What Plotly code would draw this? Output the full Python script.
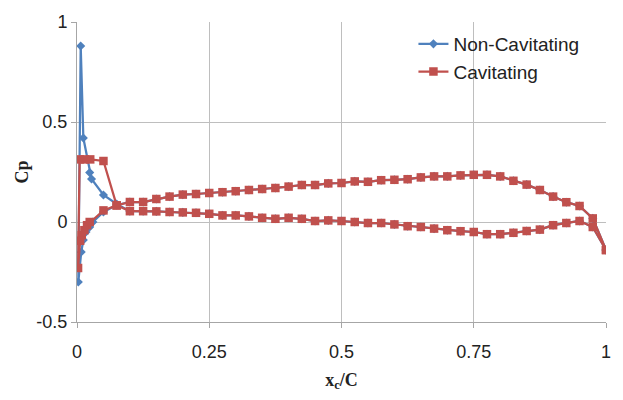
import plotly.graph_objects as go

# ---- data ----
x_body = [0.1, 0.125, 0.15, 0.175, 0.2, 0.225, 0.25, 0.275, 0.3, 0.325, 0.35, 0.375,
          0.4, 0.425, 0.45, 0.475, 0.5, 0.525, 0.55, 0.575, 0.6, 0.625, 0.65, 0.675,
          0.7, 0.725, 0.75, 0.775, 0.8, 0.825, 0.85, 0.875, 0.9, 0.925, 0.95, 0.975]
cp_upper_body = [0.10, 0.10, 0.115, 0.127, 0.137, 0.140, 0.145, 0.149, 0.154, 0.160, 0.165, 0.170,
                 0.177, 0.185, 0.185, 0.193, 0.195, 0.203, 0.201, 0.209, 0.211, 0.214, 0.223, 0.228,
                 0.228, 0.233, 0.236, 0.236, 0.228, 0.206, 0.187, 0.160, 0.127, 0.099, 0.080, 0.018]
cp_lower_body = [0.054, 0.054, 0.053, 0.050, 0.048, 0.046, 0.041, 0.033, 0.033, 0.028, 0.021, 0.016,
                 0.021, 0.016, 0.005, 0.008, 0.005, 0.0, -0.005, -0.005, -0.012, -0.021, -0.025, -0.033,
                 -0.041, -0.046, -0.050, -0.061, -0.061, -0.054, -0.045, -0.038, -0.016, -0.005, 0.005, -0.025]
x_te = 1.0
cp_te = -0.14

x_le_noncav = [0.075, 0.05, 0.03, 0.024, 0.017, 0.012, 0.008, 0.0025, 0.007, 0.012, 0.024, 0.0275, 0.05, 0.075]
cp_le_noncav = [0.085, 0.05, 0.0, -0.025, -0.05, -0.09, -0.15, -0.30, 0.88, 0.42, 0.247, 0.215, 0.135, 0.09]

x_le_cav = [0.075, 0.05, 0.024, 0.019, 0.014, 0.009, 0.006, 0.002, 0.005, 0.015, 0.025, 0.05, 0.075]
cp_le_cav = [0.083, 0.058, 0.0, -0.016, -0.041, -0.066, -0.094, -0.23, 0.313, 0.313, 0.313, 0.305, 0.083]

x_ticks = [0, 0.25, 0.5, 0.75, 1]
x_ticktext = ["0", "0.25", "0.5", "0.75", "1"]
y_ticks = [-0.5, 0, 0.5, 1]
y_ticktext = ["-0.5", "0", "0.5", "1"]


def loop(x_le, cp_le):
    xs = [x_te] + x_body[::-1] + x_le + x_body + [x_te]
    ys = [cp_te] + cp_upper_body[::-1] + cp_le + cp_lower_body + [cp_te]
    return xs, ys


xb, yb = loop(x_le_noncav, cp_le_noncav)
xr, yr = loop(x_le_cav, cp_le_cav)

BLUE = "#4F81BD"
RED = "#C0504D"

fig = go.Figure()
fig.add_trace(go.Scatter(x=xb, y=yb, mode="lines+markers", name="Non-Cavitating",
                         line=dict(color=BLUE, width=2.25),
                         marker=dict(symbol="diamond", size=7, color=BLUE)))
fig.add_trace(go.Scatter(x=xr, y=yr, mode="lines+markers", name="Cavitating",
                         line=dict(color=RED, width=2.25),
                         marker=dict(symbol="square", size=8.5, color=RED)))

GRID = "#BEBEBE"
TXT = "#222222"
fig.update_layout(
    width=623, height=400,
    margin=dict(l=77, r=13, t=18, b=78),
    paper_bgcolor="white", plot_bgcolor="white",
    font=dict(family="Liberation Sans, Arial", size=18, color=TXT),
    showlegend=True,
    legend=dict(x=0.636, y=0.99, xanchor="left", yanchor="top",
                bgcolor="rgba(0,0,0,0)", font=dict(size=19, color=TXT),
                itemwidth=30, tracegroupgap=0),
    xaxis=dict(range=[0, 1], tickvals=x_ticks, ticktext=x_ticktext,
               showgrid=True, gridcolor=GRID, gridwidth=1,
               showline=True, linecolor="#A6A6A6", linewidth=1,
               ticks="outside", ticklen=5, tickcolor="#A6A6A6",
               ticklabelstandoff=8,
               zeroline=False, tickfont=dict(size=18),
               title=dict(text="<b>x<sub>c</sub>/C</b>",
                          font=dict(family="Liberation Serif, Times New Roman", size=18, color=TXT),
                          standoff=12)),
    yaxis=dict(range=[-0.5, 1], tickvals=y_ticks, ticktext=y_ticktext,
               showgrid=True, gridcolor=GRID, gridwidth=1,
               showline=True, linecolor="#A6A6A6", linewidth=1,
               ticks="outside", ticklen=5, tickcolor="#A6A6A6",
               zeroline=False, tickfont=dict(size=18),
               title=dict(text="<b>Cp</b>",
                          font=dict(family="Liberation Serif, Times New Roman", size=18, color=TXT),
                          standoff=3)),
)

fig.write_html("out.html")
